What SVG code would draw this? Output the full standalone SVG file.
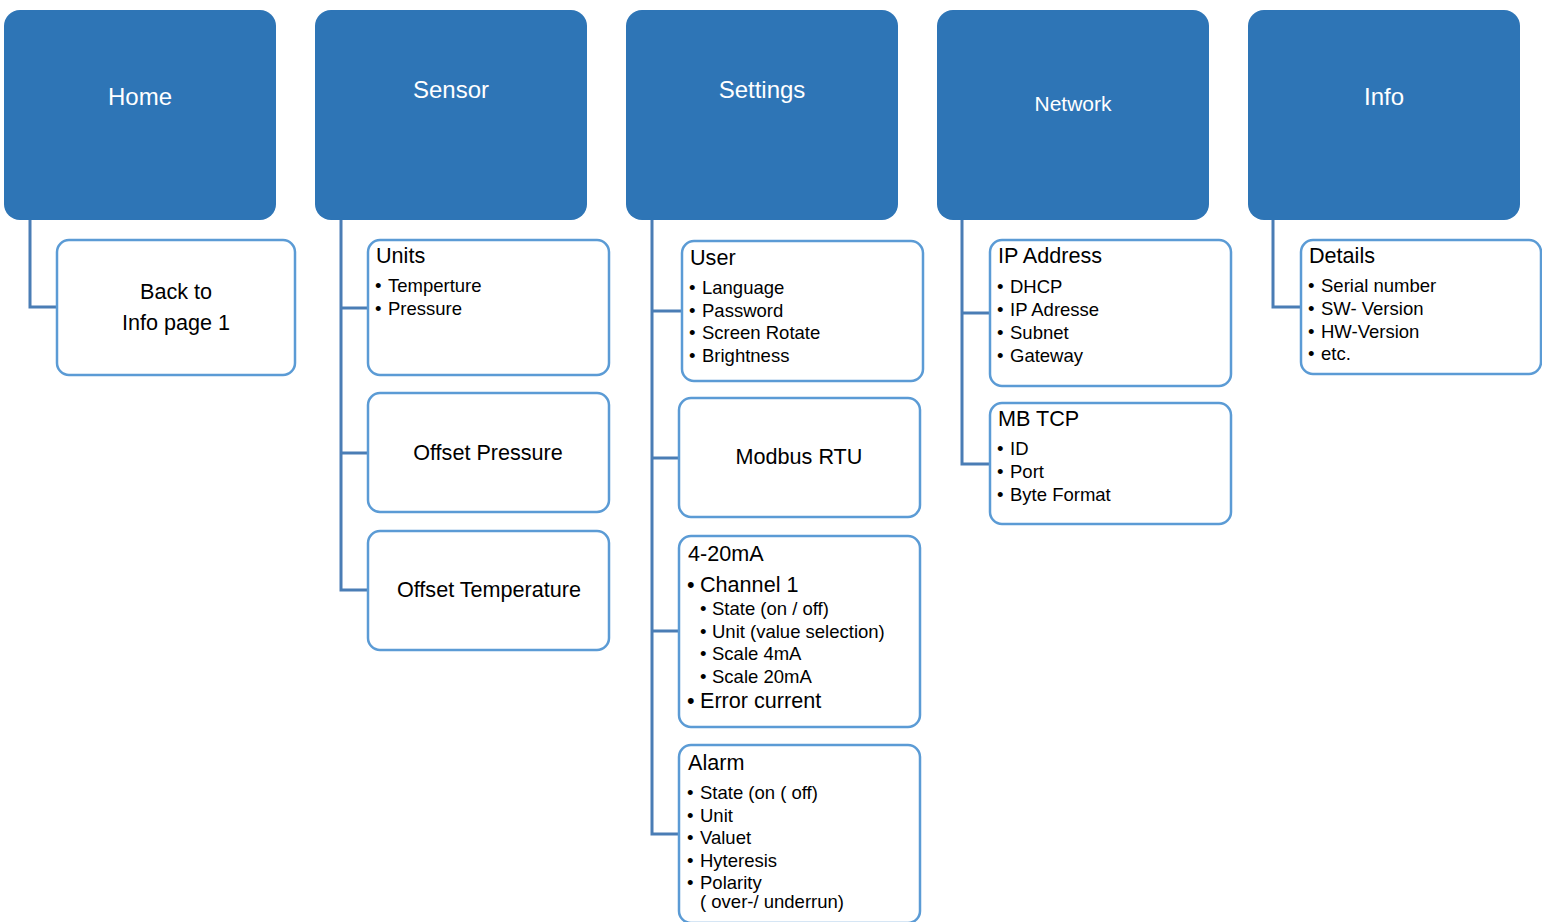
<svg xmlns="http://www.w3.org/2000/svg" width="1542" height="922" viewBox="0 0 1542 922">
<style>
.top{fill:#2E75B6;}
.tt{fill:#fff;font-family:"Liberation Sans",Arial,sans-serif;font-size:24px;text-anchor:middle;}
.box{fill:#fff;stroke:#5B9BD5;stroke-width:2.5;}
.ti{fill:#000;font-family:"Liberation Sans",Arial,sans-serif;font-size:21.6px;}
.it{fill:#000;font-family:"Liberation Sans",Arial,sans-serif;font-size:18.5px;}
.c{text-anchor:middle;}
.con{fill:none;stroke:#4A7DB5;stroke-width:3;}
</style>
<rect width="1542" height="922" fill="#fff"/>
<g id="connectors">
<polyline class="con" points="30,220 30,307 57,307"/>
<polyline class="con" points="341,220 341,590 368,590"/>
<line class="con" x1="341" y1="308" x2="368" y2="308"/>
<line class="con" x1="341" y1="453" x2="368" y2="453"/>
<polyline class="con" points="652,220 652,834 679,834"/>
<line class="con" x1="652" y1="311" x2="682" y2="311"/>
<line class="con" x1="652" y1="458" x2="679" y2="458"/>
<line class="con" x1="652" y1="631" x2="679" y2="631"/>
<polyline class="con" points="962,220 962,464 990,464"/>
<line class="con" x1="962" y1="313" x2="990" y2="313"/>
<polyline class="con" points="1273,220 1273,307 1301,307"/>
</g>
<g id="home"><rect class="top" x="4" y="10" width="272" height="210" rx="16"/><text class="tt" x="140" y="105">Home</text></g>
<g id="sensor"><rect class="top" x="315" y="10" width="272" height="210" rx="16"/><text class="tt" x="451" y="98">Sensor</text></g>
<g id="settings"><rect class="top" x="626" y="10" width="272" height="210" rx="16"/><text class="tt" x="762" y="98">Settings</text></g>
<g id="network"><rect class="top" x="937" y="10" width="272" height="210" rx="16"/><text class="tt" x="1073" y="111" style="font-size:21px">Network</text></g>
<g id="info"><rect class="top" x="1248" y="10" width="272" height="210" rx="16"/><text class="tt" x="1384" y="105">Info</text></g>

<g id="back"><rect class="box" x="57" y="240" width="238" height="135" rx="12"/>
<text class="ti c" x="176" y="299">Back to</text><text class="ti c" x="176" y="330">Info page 1</text></g>

<g id="units"><rect class="box" x="368" y="240" width="241" height="135" rx="12"/>
<text class="ti" x="376" y="263">Units</text>
<text class="it" y="292"><tspan x="375">•</tspan><tspan x="388">Temperture</tspan></text>
<text class="it" y="315"><tspan x="375">•</tspan><tspan x="388">Pressure</tspan></text></g>
<g id="offp"><rect class="box" x="368" y="393" width="241" height="119" rx="12"/><text class="ti c" x="488" y="460">Offset Pressure</text></g>
<g id="offt"><rect class="box" x="368" y="531" width="241" height="119" rx="12"/><text class="ti c" x="489" y="597">Offset Temperature</text></g>

<g id="user"><rect class="box" x="682" y="241" width="241" height="140" rx="12"/>
<text class="ti" x="690" y="265">User</text>
<text class="it" y="294"><tspan x="689">•</tspan><tspan x="702">Language</tspan></text>
<text class="it" y="316.5"><tspan x="689">•</tspan><tspan x="702">Password</tspan></text>
<text class="it" y="339"><tspan x="689">•</tspan><tspan x="702">Screen Rotate</tspan></text>
<text class="it" y="361.5"><tspan x="689">•</tspan><tspan x="702">Brightness</tspan></text></g>
<g id="modbus"><rect class="box" x="679" y="398" width="241" height="119" rx="12"/><text class="ti c" x="799" y="464">Modbus RTU</text></g>
<g id="ma"><rect class="box" x="679" y="536" width="241" height="191" rx="12"/>
<text class="ti" x="688" y="561">4-20mA</text>
<text class="ti" y="592"><tspan x="687">•</tspan><tspan x="700">Channel 1</tspan></text>
<text class="it" y="615"><tspan x="700">•</tspan><tspan x="712">State (on / off)</tspan></text>
<text class="it" y="637.5"><tspan x="700">•</tspan><tspan x="712">Unit (value selection)</tspan></text>
<text class="it" y="660"><tspan x="700">•</tspan><tspan x="712">Scale 4mA</tspan></text>
<text class="it" y="682.5"><tspan x="700">•</tspan><tspan x="712">Scale 20mA</tspan></text>
<text class="ti" y="708"><tspan x="687">•</tspan><tspan x="700">Error current</tspan></text></g>
<g id="alarm"><rect class="box" x="679" y="745" width="241" height="178" rx="12"/>
<text class="ti" x="688" y="770">Alarm</text>
<text class="it" y="799"><tspan x="687">•</tspan><tspan x="700">State (on ( off)</tspan></text>
<text class="it" y="821.5"><tspan x="687">•</tspan><tspan x="700">Unit</tspan></text>
<text class="it" y="844"><tspan x="687">•</tspan><tspan x="700">Valuet</tspan></text>
<text class="it" y="866.5"><tspan x="687">•</tspan><tspan x="700">Hyteresis</tspan></text>
<text class="it" y="889"><tspan x="687">•</tspan><tspan x="700">Polarity</tspan></text>
<text class="it" x="700" y="908">( over-/ underrun)</text></g>

<g id="ip"><rect class="box" x="990" y="240" width="241" height="146" rx="12"/>
<text class="ti" x="998" y="263">IP Address</text>
<text class="it" y="293"><tspan x="997">•</tspan><tspan x="1010">DHCP</tspan></text>
<text class="it" y="316"><tspan x="997">•</tspan><tspan x="1010">IP Adresse</tspan></text>
<text class="it" y="339"><tspan x="997">•</tspan><tspan x="1010">Subnet</tspan></text>
<text class="it" y="361.5"><tspan x="997">•</tspan><tspan x="1010">Gateway</tspan></text></g>
<g id="mbtcp"><rect class="box" x="990" y="403" width="241" height="121" rx="12"/>
<text class="ti" x="998" y="426">MB TCP</text>
<text class="it" y="455"><tspan x="997">•</tspan><tspan x="1010">ID</tspan></text>
<text class="it" y="478"><tspan x="997">•</tspan><tspan x="1010">Port</tspan></text>
<text class="it" y="501"><tspan x="997">•</tspan><tspan x="1010">Byte Format</tspan></text></g>

<g id="details"><rect class="box" x="1301" y="240" width="240" height="134" rx="12"/>
<text class="ti" x="1309" y="263">Details</text>
<text class="it" y="292"><tspan x="1308">•</tspan><tspan x="1321">Serial number</tspan></text>
<text class="it" y="315"><tspan x="1308">•</tspan><tspan x="1321">SW- Version</tspan></text>
<text class="it" y="337.5"><tspan x="1308">•</tspan><tspan x="1321">HW-Version</tspan></text>
<text class="it" y="360"><tspan x="1308">•</tspan><tspan x="1321">etc.</tspan></text></g>
</svg>
